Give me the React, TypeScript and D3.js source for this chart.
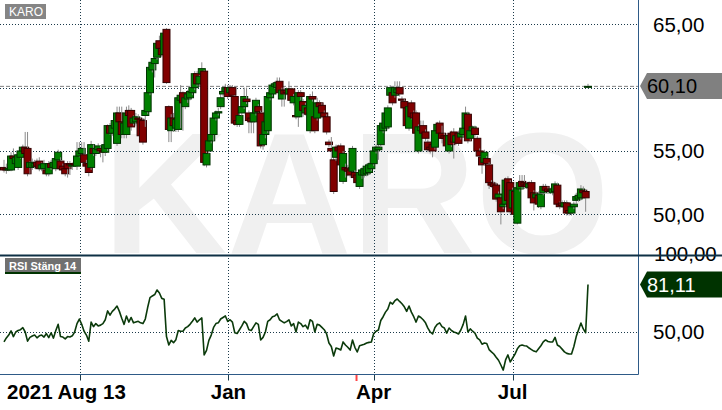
import React from "react";
import * as d3 from "d3";

const ticker = "KARO";
const rsiTitle = "RSI Stäng 14";

const opens = [
53.7,53.6,53.5,53.5,54.6,54.0,53.7,54.5,55.0,55.3,
55.2,53.7,53.7,53.8,54.1,54.2,53.6,53.6,53.5,53.2,
54.0,53.7,53.6,54.3,54.2,53.8,53.6,54.0,54.0,53.8,
54.0,53.8,54.6,54.8,54.7,54.0,54.0,53.7,55.2,54.8,
55.1,55.2,55.0,54.9,55.2,57.0,56.4,56.8,55.6,58.0,
57.3,56.3,56.3,58.2,58.2,57.2,57.3,57.6,57.5,57.4,
57.8,58.1,59.6,61.4,61.9,62.4,63.7,63.1,62.6,64.6,
58.5,56.6,57.6,56.8,56.7,59.0,59.6,58.5,59.1,59.2,
59.6,60.0,61.1,60.3,61.1,61.3,53.9,55.0,55.8,56.3,
57.6,58.0,58.5,59.5,59.7,60.0,59.6,60.0,59.3,57.4,
57.1,58.0,58.5,59.1,58.0,57.6,57.3,58.0,58.5,58.0,
55.5,56.3,56.6,59.2,59.5,60.1,60.0,60.5,59.1,59.8,
59.8,59.5,59.9,58.8,57.8,57.7,59.6,58.9,58.0,58.4,
56.6,59.3,57.7,57.6,58.8,58.6,58.0,57.7,55.7,55.2,
54.3,54.5,55.3,55.4,52.6,53.7,53.6,53.5,53.4,53.3,
53.1,52.2,53.1,53.1,53.2,53.3,53.6,54.0,55.0,55.1,
55.5,56.6,56.8,56.9,59.4,59.6,59.4,59.6,60.0,59.1,
58.9,58.4,56.8,58.8,58.0,58.0,55.0,56.6,57.0,56.5,
55.7,55.3,55.5,55.3,56.6,57.2,56.4,56.2,56.2,55.0,
56.4,56.5,55.7,56.4,56.1,56.3,56.8,57.9,56.0,56.6,
56.8,56.0,55.0,54.5,54.1,54.4,53.9,52.5,52.4,52.3,
51.3,51.3,50.6,50.8,52.8,52.5,50.5,51.8,49.3,52.0,
52.6,52.5,52.4,52.1,52.5,51.7,51.3,51.5,50.6,51.7,
52.2,52.0,51.9,51.7,51.8,52.3,50.8,50.9,50.6,50.9,
50.3,50.1,50.6,51.1,51.2,51.3,51.9,51.8,60.1
];

const highs = [
54.3,54.0,54.2,54.9,55.2,54.7,54.9,55.2,55.5,56.5,
56.5,54.2,54.4,54.3,54.4,54.5,54.1,54.3,53.7,54.2,
54.3,54.3,54.6,55.1,54.5,54.0,53.8,54.2,54.2,54.1,
54.3,55.7,55.7,55.7,55.7,54.3,54.2,55.8,55.5,55.4,
55.6,55.4,55.2,55.6,57.1,57.2,57.4,57.6,58.5,58.5,
58.5,57.6,58.5,58.6,58.4,57.8,58.0,57.9,57.7,57.6,
58.4,59.8,61.8,62.3,62.8,63.7,64.1,63.4,64.5,64.7,
58.6,57.9,58.0,58.2,59.3,60.2,59.7,59.5,59.8,59.9,
60.2,61.3,61.3,61.0,62.0,61.4,55.0,56.0,56.5,58.0,
58.2,58.4,59.5,59.9,60.3,60.2,60.2,60.2,59.4,57.6,
58.0,58.8,60.0,60.0,58.2,57.8,58.2,59.2,58.7,58.2,
56.5,57.5,59.5,59.8,60.4,60.5,60.8,60.8,60.0,60.0,
60.0,60.5,60.0,59.5,58.0,59.8,59.8,59.1,58.8,58.6,
59.5,59.7,58.0,59.2,59.0,58.8,58.2,57.9,55.9,56.1,
54.5,55.5,55.5,55.6,55.0,54.0,53.9,53.8,55.4,53.5,
53.3,53.5,53.7,53.8,54.0,54.1,54.2,55.2,55.5,55.5,
57.2,57.5,58.3,58.6,60.2,59.8,60.5,60.5,60.5,59.3,
59.1,58.5,58.7,59.0,58.2,58.2,57.1,57.4,57.4,56.7,
55.9,55.5,55.7,56.8,57.3,57.4,57.0,56.4,56.4,56.4,
56.6,56.8,56.4,56.6,56.6,57.0,58.5,58.1,56.8,57.0,
57.0,56.2,55.2,54.7,55.1,54.6,54.1,52.7,52.6,52.5,
51.8,51.5,51.0,52.9,53.0,52.7,52.1,52.0,52.3,53.1,
53.1,53.1,52.6,52.6,52.7,51.9,51.8,51.8,51.8,52.4,
52.4,52.2,52.1,52.2,52.6,52.5,51.0,51.1,51.1,51.1,
50.5,50.8,51.0,51.7,51.7,52.3,52.2,52.0,60.3
];

const lows = [
53.3,53.2,53.4,53.4,54.2,53.8,53.5,54.4,54.8,54.6,
53.0,53.2,53.5,53.6,53.6,53.4,53.4,53.4,53.0,53.0,
53.5,53.6,53.4,54.2,53.5,53.3,53.0,52.9,53.1,53.5,
53.8,53.5,54.5,54.6,54.0,53.5,53.0,53.5,54.6,54.6,
54.9,54.5,54.1,54.6,55.0,56.3,56.2,56.5,55.4,57.1,
56.0,56.0,56.0,57.5,56.6,57.0,57.0,57.2,55.9,55.5,
56.9,57.9,59.4,61.2,60.8,62.2,62.9,62.4,62.4,60.3,
55.7,55.7,56.5,56.5,56.5,56.8,56.6,58.3,58.8,59.0,
59.4,59.8,60.1,60.1,60.9,53.8,53.7,54.8,55.6,55.8,
57.4,57.8,58.3,59.3,59.5,59.1,59.4,59.2,57.0,56.9,
56.9,57.8,58.3,58.7,56.4,56.4,56.4,57.8,57.9,55.2,
55.1,56.0,56.4,59.0,59.3,59.9,59.8,59.4,58.5,58.5,
59.4,59.3,58.8,58.6,57.5,56.9,59.0,57.7,57.8,57.7,
56.4,58.9,56.4,57.4,58.3,57.6,57.5,56.3,55.3,54.3,
51.6,54.2,54.5,53.6,52.4,52.9,53.0,52.9,53.2,52.7,
52.2,52.0,52.8,52.9,53.0,53.1,53.4,53.8,54.8,54.3,
55.3,56.4,56.6,56.7,59.2,58.6,59.2,59.4,59.3,58.8,
58.2,56.8,56.6,57.5,57.4,55.8,54.8,56.4,56.2,55.8,
54.9,54.8,54.5,55.1,56.4,56.2,55.6,55.8,55.2,54.8,
55.3,54.4,55.5,55.4,55.9,56.1,56.6,55.6,55.8,56.4,
56.1,54.8,54.4,53.2,53.9,53.8,52.0,52.1,52.0,51.0,
51.1,49.2,50.4,50.6,50.9,50.0,50.3,49.8,49.2,51.8,
52.0,52.0,52.0,51.9,51.1,50.3,51.1,50.5,50.4,51.5,
51.7,51.6,51.6,51.5,51.6,50.6,50.4,50.5,50.4,49.9,
49.9,49.9,50.4,50.8,51.0,51.1,51.5,50.2,59.95
];

const closes = [
53.5,53.5,53.6,54.6,54.4,54.5,54.7,55.0,55.3,54.8,
53.2,54.1,54.1,54.0,53.8,53.6,53.9,54.0,53.2,54.0,
53.7,54.1,54.4,54.9,53.6,53.5,53.2,53.6,53.9,53.9,
53.9,54.6,55.0,55.2,54.1,53.8,53.3,55.5,54.8,55.2,
55.4,55.0,54.9,55.5,57.0,56.4,57.0,57.4,58.0,57.3,
56.3,57.2,58.0,57.8,56.9,57.6,57.7,57.5,56.2,55.7,
58.2,59.6,61.6,62.0,62.3,63.5,63.1,62.6,64.3,60.4,
56.7,57.6,57.0,57.5,59.2,59.4,58.8,59.2,59.5,59.7,
60.0,61.1,60.3,60.9,61.5,54.1,54.8,55.8,56.3,57.6,
58.0,58.1,59.2,59.7,60.0,59.3,60.0,59.4,57.2,57.1,
57.8,58.5,59.3,58.9,57.4,57.3,58.0,59.0,58.1,55.4,
56.3,57.3,59.3,59.6,60.2,60.3,60.4,59.6,59.8,59.5,
59.6,59.9,59.0,59.3,57.7,59.6,59.3,58.2,58.6,57.9,
59.3,59.1,56.6,58.8,58.5,58.0,57.7,56.5,55.5,55.0,
51.8,55.3,55.0,53.9,54.8,53.5,53.4,53.1,55.2,52.9,
52.5,53.3,53.5,53.6,53.8,53.9,54.0,55.0,55.3,55.3,
57.0,57.2,58.0,58.4,60.0,58.8,60.0,59.9,59.5,59.0,
58.4,57.0,58.5,57.7,57.6,56.4,56.9,56.9,56.4,56.0,
55.1,55.1,55.0,56.6,57.1,56.4,56.0,56.0,55.4,56.2,
55.5,55.7,56.2,55.6,56.4,56.8,58.0,55.8,56.6,56.9,
56.3,55.0,54.6,53.9,54.9,54.0,52.5,52.3,52.2,51.2,
51.6,50.2,50.8,52.7,51.1,50.2,51.9,50.0,52.1,52.5,
52.2,52.3,52.2,52.4,51.3,50.9,51.6,50.8,51.6,52.2,
51.9,51.8,51.8,52.0,52.4,50.8,50.6,50.7,50.9,50.1,
50.1,50.6,50.8,51.4,51.5,52.0,51.7,51.3,60.1
];

const rsiValues = [
43.5,46.1,48,50.7,47,50,51,51.5,52.8,50,
44,46.5,47.4,48,46.2,47.5,48,46.7,49,46.3,
49.5,46,51,55,47,46.7,45.5,47,46.7,47.5,
50,55.5,58.5,55,50.5,48,44,56.5,53.5,55.5,
54,54.5,55.5,58,63.8,61,63.5,65,67,63.5,
59,55,60.5,56.5,59.5,56,56.5,57,56,55.5,
58.5,66,72.5,73.6,74.5,77.5,75.5,72,71.5,47,
41.5,44.5,43,45,51,50.5,50.5,52.6,53.5,55,
57,59.2,56.5,58,59.2,35,38,44.5,48,53,
55.5,56,58.5,59.5,60.5,57,58,56.5,49.5,49,
51.5,54,57,55.5,51.5,51,53.5,56,55,44.8,
46.5,50,57,58,60,60.5,61.8,58,57,56,
56.8,58,54,55.5,50,56.5,55.5,53.5,54.5,52,
58,57,50,55,54.5,53,51.5,48.7,42.8,40.5,
34.3,39.5,39,38.2,43.5,41.5,40,38.2,44.8,40,
36.9,41,41.5,42,42.8,43.2,43.5,49,50.5,51.3,
57.5,60,63,65,69.5,68.3,70.5,71.6,70,68.5,
66.5,63.5,67,63,60,56.5,60.5,59.5,58,56,
52.5,50,48.7,53,55,56,53.5,52.6,49.3,52.6,
51,50,49.5,48.7,51.3,55,60.5,50,52,50.5,
49.3,46,44.8,42,42.8,42.5,38.5,37,35.6,33.5,
31.5,28.4,25.1,31.7,35,30.4,33,35.5,39,41,
41.5,41,40.8,39.5,38.5,37.5,37,39,41,43.5,
44.8,43.8,43.5,43.5,46.5,41.5,40.5,38.8,37,36,
35.6,35.6,40.5,47,51.5,55.9,52,49.5,81.11
];

const priceTicks = [65, 60, 55, 50];
const rsiTicks = [100, 50];
const timeTickIdx = [32.3, 95.3, 157.0, 216.0];
const timeLabels = ["2021 Aug 13", "Jan", "Apr", "Jul"];
const eventIdx = [149.7];
const lastPrice = 60.1;
const lastRsi = 81.11;

const W = 722;
const H = 410;
const plotRight = 638.5;
const sepY = 255.5;
const axisY = 374.5;
const FONT = "'Liberation Sans', Arial, Helvetica, sans-serif";
const GRID = "#1b3a4b";
const AXIS = "#2e5a87";

const fmt = (v: number) => d3.format(".2f")(v).replace(".", ",");

export default function App() {
  const n = closes.length;
  const x = d3.scaleLinear().domain([0, n - 1]).range([4, 588]);
  const y = d3.scaleLinear().domain([50, 65]).range([214.3, 24.3]);
  const yr = d3.scaleLinear().domain([50, 100]).range([332, 255.6]);
  const snap = (v: number) => Math.round(v) + 0.5;

  const rsiLine = d3
    .line<number>()
    .x((_, i) => x(i))
    .y((v) => yr(v))(rsiValues) as string;

  const tag = (cy: number, fill: string, color: string, text: string) => {
    const top = cy - 13;
    const bot = cy + 13;
    const d = `M640,${cy} L647,${top} L${W},${top} L${W},${bot} L647,${bot} Z`;
    return (
      <g>
        <path d={d} fill={fill} />
        <text x={647} y={cy} dy="0.36em" fontSize={20} fontFamily={FONT} fill={color}>
          {text}
        </text>
      </g>
    );
  };

  const bodyW = 7;
  // labels hidden behind the last-price tag are not drawn (as in the reference)
  const visiblePriceTicks = priceTicks.filter((t) => Math.abs(y(t) - y(lastPrice)) > 18);

  return (
    <svg
      width={W}
      height={H}
      viewBox={`0 0 ${W} ${H}`}
      style={{ position: "absolute", left: 0, top: 0, display: "block", background: "#fff" }}
    >
      <defs>
        <clipPath id="topPanel">
          <rect x={0} y={0} width={plotRight} height={sepY - 1} />
        </clipPath>
      </defs>
      <rect x={0} y={0} width={W} height={H} fill="#fff" />

      {/* watermark */}
      <g clipPath="url(#topPanel)">
        <text x={103} y={253} fontSize={172} fontWeight="bold" fontFamily={FONT} fill="#f0f0f0">
          {ticker}
        </text>
      </g>

      {/* horizontal grid */}
      {priceTicks.map((t) => (
        <line key={"pg" + t} x1={0} x2={plotRight} y1={snap(y(t))} y2={snap(y(t))} stroke={GRID} strokeDasharray="1,2" />
      ))}
      <line x1={0} x2={plotRight} y1={snap(yr(50))} y2={snap(yr(50))} stroke={GRID} strokeDasharray="1,2" />

      {/* vertical grid */}
      {timeTickIdx.map((t, i) => (
        <g key={"vg" + i}>
          <line x1={snap(x(t))} x2={snap(x(t))} y1={0} y2={axisY} stroke={GRID} strokeDasharray="1,2" />
          <line x1={snap(x(t))} x2={snap(x(t))} y1={axisY} y2={axisY + 6} stroke={GRID} />
        </g>
      ))}

      {/* last price dashed */}
      <line x1={0} x2={plotRight} y1={y(lastPrice)} y2={y(lastPrice)} stroke="#808080" strokeDasharray="4,2" />

      {/* candles */}
      {closes.map((c, i) => {
        const o = opens[i];
        const up = c >= o;
        const cx = x(i);
        const yTop = y(Math.max(o, c));
        const yBot = y(Math.min(o, c));
        const h = Math.max(1, yBot - yTop);
        return (
          <g key={"c" + i}>
            <line x1={cx} x2={cx} y1={y(highs[i])} y2={y(lows[i])} stroke="#8a8a8a" strokeWidth={1} />
            <rect
              x={cx - bodyW / 2}
              y={yTop}
              width={bodyW}
              height={h}
              fill={up ? "#008000" : "#800000"}
              stroke={up ? "#003300" : "#330000"}
              strokeWidth={1}
            />
          </g>
        );
      })}

      {/* RSI line */}
      <path d={rsiLine} fill="none" stroke="#0b3a0b" strokeWidth={1.6} strokeLinejoin="round" />

      {/* axes */}
      <line x1={plotRight} x2={plotRight} y1={0} y2={axisY} stroke={AXIS} strokeWidth={1} />
      <line x1={0} x2={plotRight} y1={axisY} y2={axisY} stroke={AXIS} strokeWidth={1} />

      {/* price labels */}
      {visiblePriceTicks.map((t) => (
        <text key={"pl" + t} x={653} y={y(t)} dy="0.36em" fontSize={20.5} fontFamily={FONT} fill="#000">
          {fmt(t)}
        </text>
      ))}
      {rsiTicks.map((t) => (
        <text key={"rl" + t} x={t === 100 ? 654 : 653} y={t === 100 ? yr(t) - 1.5 : yr(t)} dy="0.36em" fontSize={20.5} fontFamily={FONT} fill="#000">
          {fmt(t)}
        </text>
      ))}

      {/* separator */}
      <line x1={0} x2={W} y1={sepY} y2={sepY} stroke="#0e3045" strokeWidth={2} />

      {/* tags */}
      {tag(Math.round(y(lastPrice)), "#808080", "#000", fmt(lastPrice))}
      {tag(Math.round(yr(lastRsi)) + 0.5, "#003300", "#fff", fmt(lastRsi))}

      {/* event marker */}
      {eventIdx.map((e, i) => (
        <line key={"ev" + i} x1={x(e)} x2={x(e)} y1={axisY + 0.5} y2={axisY + 6.5} stroke="#ff4444" strokeWidth={2} />
      ))}

      {/* time labels */}
      {timeTickIdx.map((t, i) => (
        <text
          key={"tl" + i}
          x={i === 0 ? 7 : x(t)}
          y={399}
          textAnchor={i === 0 ? "start" : "middle"}
          fontSize={20.5}
          fontWeight="bold"
          fontFamily={FONT}
          fill="#000"
        >
          {timeLabels[i]}
        </text>
      ))}

      {/* panel titles */}
      <rect x={5} y={4} width={41} height={15} fill="#858585" />
      <text x={9} y={16} fontSize={12} fontFamily={FONT} fill="#fff">
        {ticker}
      </text>
      <rect x={5} y={258} width={76} height={14} fill="#707070" />
      <rect x={5} y={272} width={76} height={2} fill="#003300" />
      <text x={9} y={269.5} fontSize={11} fontWeight="bold" fontFamily={FONT} fill="#fff">
        {rsiTitle}
      </text>
    </svg>
  );
}
